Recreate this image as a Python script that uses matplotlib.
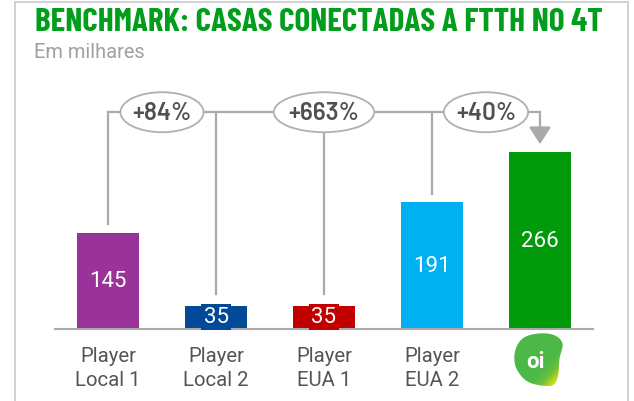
import numpy as np
import matplotlib
matplotlib.use("Agg")
import matplotlib.pyplot as plt
from matplotlib.patches import Ellipse, Rectangle, PathPatch, FancyArrowPatch
from matplotlib.path import Path
from matplotlib import font_manager

# ---------------- data ----------------
categories = ["Player\nLocal 1", "Player\nLocal 2", "Player\nEUA 1", "Player\nEUA 2", "oi"]
values = [145, 35, 35, 191, 266]
colors = ["#993399", "#004a97", "#c00000", "#00b0f0", "#009a0a"]
growth_labels = ["+84%", "+663%", "+40%"]
growth_pos = [0.5, 2.0, 3.5]
title = "BENCHMARK: CASAS CONECTADAS A FTTH NO 4T"
subtitle = "Em milhares"

# ---------------- fonts ----------------
names = {f.name for f in font_manager.fontManager.ttflist}

def pick(*cands):
    for c in cands:
        if c in names:
            return [c, "DejaVu Sans"]
    return ["DejaVu Sans"]

TITLE_F = pick("Barlow Condensed", "Barlow Semi Condensed")
ELL_F = pick("Barlow", "Roboto")
LAB_F = pick("Roboto", "Barlow")
plt.rcParams['font.family'] = LAB_F

W, H = 634, 402
fig = plt.figure(figsize=(W / 100, H / 100), dpi=100)

def fx(x):
    return x / W

def fy(y):
    return 1 - y / H

def fit(txt, target_px, size0):
    fig.canvas.draw()
    w = txt.get_window_extent(renderer=fig.canvas.get_renderer()).width
    txt.set_fontsize(size0 * target_px / w)
    return size0 * target_px / w

# frame
fig.patches.append(Rectangle((fx(15), fy(420)), fx(628) - fx(15), fy(3) - fy(420),
                             transform=fig.transFigure, fill=False,
                             edgecolor="#c8c8c8", linewidth=1.2))

# axes: left px 55, right px 593, bottom px 330, top px 60
ax = fig.add_axes([fx(55), fy(330), fx(593) - fx(55), fy(60) - fy(330)])
px_per_unit = 0.665
ax.set_xlim(-0.491, 4.491)
ax.set_ylim(0, 270 / px_per_unit)
for s in ["top", "right", "left"]:
    ax.spines[s].set_visible(False)
ax.spines["bottom"].set_color("#aaaaaa")
ax.spines["bottom"].set_linewidth(1.5)
ax.set_xticks([])
ax.set_yticks([])
ax.patch.set_alpha(0)

x = np.arange(len(values))
ax.bar(x, values, width=0.574, color=colors, zorder=2)

# value labels
for i, v in enumerate(values):
    if v < 60:
        ax.text(i, v / 2 + 1, str(v), ha="center", va="center", color="white",
                fontsize=16, zorder=4,
                bbox=dict(boxstyle="square,pad=0.12", fc=colors[i], ec="none"))
    else:
        ax.text(i, v / 2, str(v), ha="center", va="center", color="white",
                fontsize=16, zorder=4)

# brackets
gray = "#aaaaaa"
yb = 326
ax.plot([0, 4], [yb, yb], color=gray, lw=1.6, zorder=1, solid_capstyle="butt", clip_on=False)
gaps = [13, 17.5, 17.5, 12]
for i in range(4):
    ax.plot([i, i], [yb, values[i] + gaps[i]], color=gray, lw=1.6, zorder=1, clip_on=False)
ax.add_patch(FancyArrowPatch((4, yb + 0.8), (4, values[4] + 12),
                             arrowstyle="-|>,head_length=7,head_width=4.5",
                             mutation_scale=1.5, color=gray, lw=1.6,
                             shrinkA=0, shrinkB=0, zorder=1, clip_on=False))
ell_w = [0.77, 0.93, 0.78]
for lab, xp, w in zip(growth_labels, growth_pos, ell_w):
    ax.add_patch(Ellipse((xp, yb), w, 40 / px_per_unit, facecolor="white",
                         edgecolor="#b0b0b0", lw=1.3, zorder=3, clip_on=False))
    ax.text(xp, yb - 1, lab, ha="center", va="center", color="#505050", fontsize=17.5,
            fontweight=600, zorder=4, family=ELL_F)

# category labels
for i, c in enumerate(categories[:4]):
    l1, l2 = c.split("\n")
    xpx = 108 + 108 * i
    fig.text(fx(xpx), fy(362), l1, ha="center", va="baseline", color="#555555",
             fontsize=14.7)
    fig.text(fx(xpx), fy(386), l2, ha="center", va="baseline", color="#555555",
             fontsize=14.7)

# oi logo
lax = fig.add_axes([fx(514), fy(387), fx(563) - fx(514), fy(334) - fy(387)])
lax.set_xlim(0, 1)
lax.set_ylim(0, 1)
lax.axis("off")
pts = np.array([[0.50, 0.99], [0.82, 0.96], [0.99, 0.80], [0.93, 0.52],
                [0.90, 0.20], [0.80, 0.02], [0.55, 0.01], [0.25, 0.10],
                [0.04, 0.35], [0.02, 0.65], [0.18, 0.90]])
n = len(pts)
curve = []
for k in range(n):
    p0, p1, p2, p3 = pts[(k - 1) % n], pts[k], pts[(k + 1) % n], pts[(k + 2) % n]
    for t in np.linspace(0, 1, 12, endpoint=False):
        t2, t3 = t * t, t * t * t
        curve.append(0.5 * ((2 * p1) + (-p0 + p2) * t + (2 * p0 - 5 * p1 + 4 * p2 - p3) * t2
                            + (-p0 + 3 * p1 - 3 * p2 + p3) * t3))
curve = np.array(curve)
blob = PathPatch(Path(np.vstack([curve, curve[:1]]), closed=True), fc="none", ec="none")
lax.add_patch(blob)
gx, gy = np.meshgrid(np.linspace(0, 1, 100), np.linspace(0, 1, 100))
g = np.clip((gx - gy - 0.25) / 0.6, 0, 1)
cmap = matplotlib.colors.LinearSegmentedColormap.from_list(
    "oi", [(0, "#4cb848"), (0.45, "#6cbf3c"), (0.75, "#b5d51e"), (1, "#f2e600")])
im = lax.imshow(g, extent=(0, 1, 0, 1), origin="lower", cmap=cmap, vmin=0, vmax=1,
                aspect="auto")
im.set_clip_path(blob)
lax.text(0.44, 0.47, "oi", ha="center", va="center", color="white", fontsize=16,
         fontweight="bold", family=["Roboto", "DejaVu Sans"])

# titles
t = fig.text(fx(35), fy(31), title, ha="left", va="baseline", color="#009e1a",
             fontsize=22, fontweight="bold", family=TITLE_F)
fit(t, 568, 22)
st = fig.text(fx(34), fy(58), subtitle, ha="left", va="baseline", color="#a0a0a0",
              fontsize=13)
fit(st, 111, 13)

fig.savefig("out.png", dpi=100)
